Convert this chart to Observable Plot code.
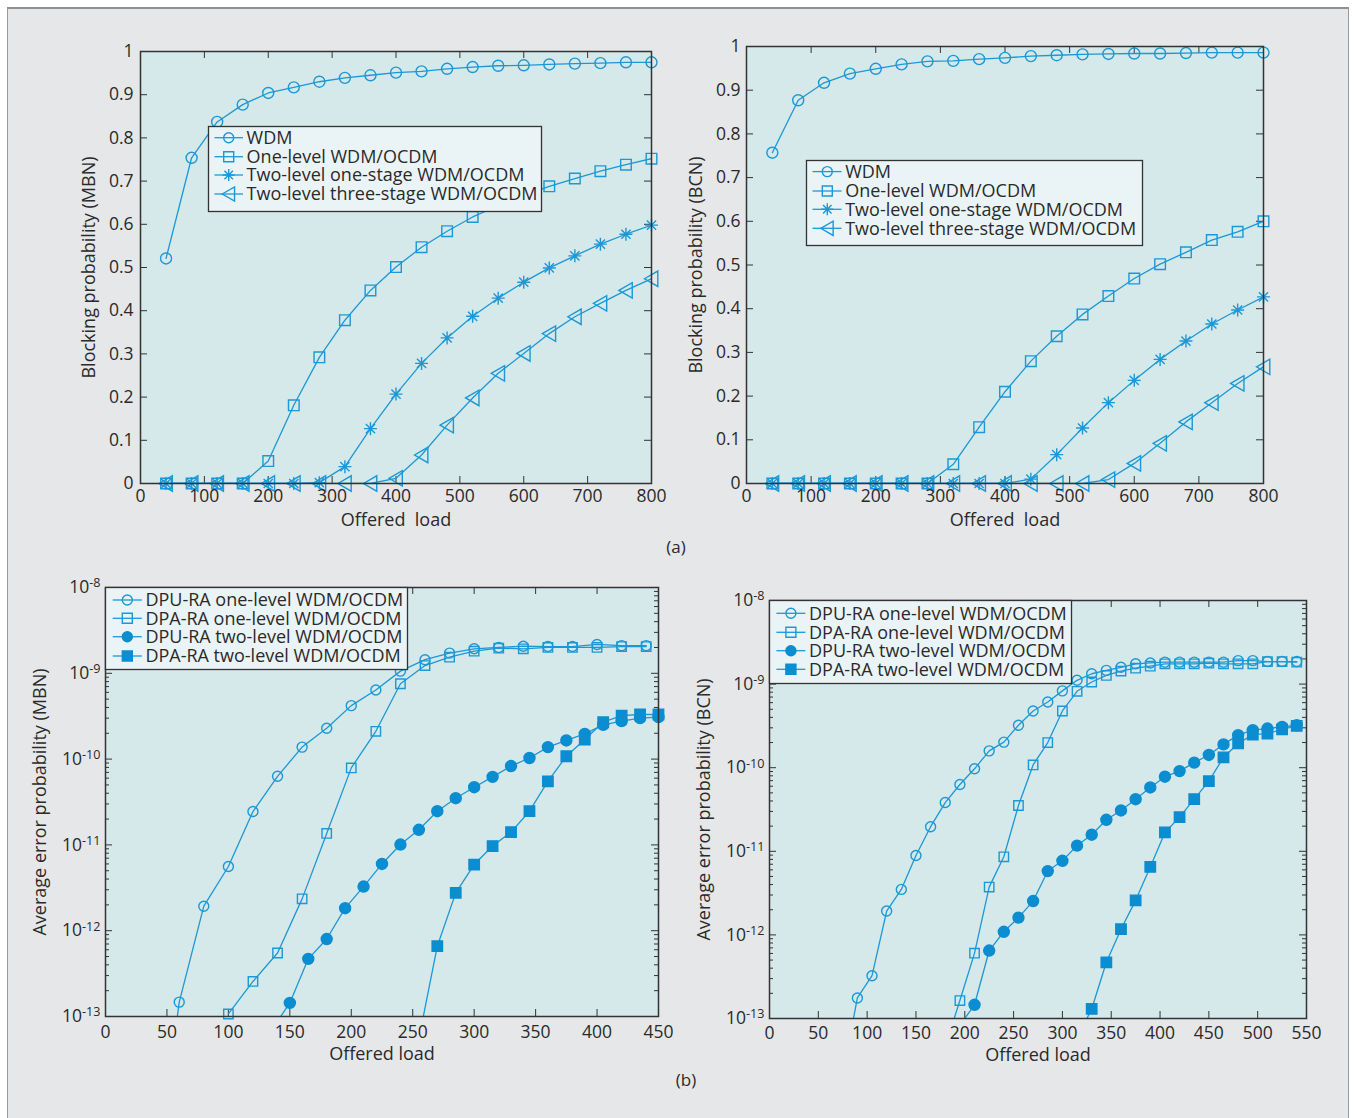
<!DOCTYPE html>
<html>
<head>
<meta charset="utf-8">
<script src="https://cdn.jsdelivr.net/npm/d3@7"></script>
<script src="https://cdn.jsdelivr.net/npm/@observablehq/plot@0.6"></script>
<style>
  html, body { margin: 0; padding: 0; background: #ffffff; }
  #page { position: relative; width: 1356px; height: 1118px; overflow: hidden; background: #ffffff;
          font-family: "Open Sans", "Noto Sans", sans-serif; font-weight: 500; color: #2a2a2a; }
  #sheet { position: absolute; left: 7px; top: 7px; width: 1340px; height: 1130px; background: #e6e7e9;
           border-left: 1px solid #9a9b9d; border-right: 1px solid #9a9b9d; border-top: 2px solid #8e9092; }
  .chart { position: absolute; }
  svg text { white-space: pre; font-weight: 500; }
  .cap { position: absolute; font-size: 17px; transform: translate(-50%, -50%); white-space: nowrap; }
</style>
</head>
<body>
<div id="page"><div id="sheet"></div></div>
<script>
// ---------------- data ----------------
// (a) blocking probability, offered load
const loadA = [40, 80, 120, 160, 200, 240, 280, 320, 360, 400, 440, 480, 520, 560, 600, 640, 680, 720, 760, 800];
const legendA = ["WDM", "One-level WDM/OCDM", "Two-level one-stage WDM/OCDM", "Two-level three-stage WDM/OCDM"];
// MBN
const mbnWDM   = [0.521, 0.754, 0.837, 0.877, 0.904, 0.917, 0.930, 0.939, 0.945, 0.951, 0.954, 0.960, 0.964, 0.967, 0.968, 0.970, 0.972, 0.973, 0.975, 0.975];
const mbnOne   = [0, 0, 0, 0, 0.052, 0.181, 0.292, 0.378, 0.447, 0.501, 0.547, 0.584, 0.617, 0.643, 0.667, 0.688, 0.706, 0.723, 0.738, 0.752];
const mbnTwo1  = [0, 0, 0, 0, 0, 0, 0.002, 0.039, 0.127, 0.207, 0.278, 0.337, 0.387, 0.429, 0.466, 0.499, 0.527, 0.554, 0.577, 0.598];
const mbnTwo3  = [0, 0, 0, 0, 0, 0, 0, 0, 0, 0.012, 0.066, 0.135, 0.198, 0.255, 0.301, 0.347, 0.386, 0.417, 0.447, 0.474];
// BCN
const bcnWDM   = [0.757, 0.877, 0.917, 0.938, 0.949, 0.959, 0.966, 0.967, 0.971, 0.974, 0.978, 0.980, 0.982, 0.983, 0.984, 0.984, 0.985, 0.986, 0.986, 0.986];
const bcnOne   = [0, 0, 0, 0, 0, 0, 0, 0.044, 0.129, 0.210, 0.280, 0.337, 0.387, 0.429, 0.469, 0.502, 0.529, 0.557, 0.576, 0.600];
const bcnTwo1  = [0, 0, 0, 0, 0, 0, 0, 0, 0, 0, 0.010, 0.066, 0.127, 0.185, 0.236, 0.284, 0.326, 0.365, 0.397, 0.427];
const bcnTwo3  = [0, 0, 0, 0, 0, 0, 0, 0, 0, 0, 0, 0, 0, 0.009, 0.046, 0.092, 0.141, 0.185, 0.229, 0.267];
const xTicksA = [0, 100, 200, 300, 400, 500, 600, 700, 800];
const yTicksA = [0, 0.1, 0.2, 0.3, 0.4, 0.5, 0.6, 0.7, 0.8, 0.9, 1];

// (b) average error probability, offered load
const legendB = ["DPU-RA one-level WDM/OCDM", "DPA-RA one-level WDM/OCDM", "DPU-RA two-level WDM/OCDM", "DPA-RA two-level WDM/OCDM"];
// MBN
const mDpuOneX = [40, 60, 80, 100, 120, 140, 160, 180, 200, 220, 240, 260, 280, 300, 320, 340, 360, 380, 400, 420, 440];
const mDpuOne  = [1e-15, 1.47e-13, 1.93e-12, 5.6e-12, 2.45e-11, 6.3e-11, 1.38e-10, 2.29e-10, 4.2e-10, 6.4e-10, 1.06e-9, 1.44e-9, 1.72e-9, 1.93e-9, 2.0e-9, 2.07e-9, 2.05e-9, 2.05e-9, 2.17e-9, 2.1e-9, 2.1e-9];
const mDpaOneX = [100, 120, 140, 160, 180, 200, 220, 240, 260, 280, 300, 320, 340, 360, 380, 400, 420, 440];
const mDpaOne  = [1.07e-13, 2.56e-13, 5.5e-13, 2.35e-12, 1.36e-11, 7.9e-11, 2.11e-10, 7.55e-10, 1.23e-9, 1.54e-9, 1.81e-9, 1.96e-9, 1.93e-9, 2.0e-9, 2.0e-9, 2.0e-9, 2.05e-9, 2.05e-9];
const mDpuTwoX = [135, 150, 165, 180, 195, 210, 225, 240, 255, 270, 285, 300, 315, 330, 345, 360, 375, 390, 405, 420, 435, 450];
const mDpuTwo  = [6.9e-14, 1.44e-13, 4.7e-13, 8.0e-13, 1.83e-12, 3.27e-12, 6.0e-12, 1.01e-11, 1.5e-11, 2.47e-11, 3.5e-11, 4.7e-11, 6.2e-11, 8.3e-11, 1.03e-10, 1.38e-10, 1.65e-10, 1.97e-10, 2.51e-10, 2.77e-10, 3.0e-10, 3.09e-10];
const mDpaTwoX = [255, 270, 285, 300, 315, 330, 345, 360, 375, 390, 405, 420, 435, 450];
const mDpaTwo  = [5.5e-14, 6.6e-13, 2.76e-12, 5.9e-12, 9.7e-12, 1.41e-11, 2.47e-11, 5.5e-11, 1.08e-10, 1.69e-10, 2.69e-10, 3.22e-10, 3.31e-10, 3.31e-10];
// BCN
const bDpuOneX = [75, 90, 105, 120, 135, 150, 165, 180, 195, 210, 225, 240, 255, 270, 285, 300, 315, 330, 345, 360, 375, 390, 405, 420, 435, 450, 465, 480, 495, 510, 525, 540];
const bDpuOne  = [2.1e-14, 1.76e-13, 3.25e-13, 1.93e-12, 3.5e-12, 8.9e-12, 1.97e-11, 3.83e-11, 6.3e-11, 9.7e-11, 1.59e-10, 2.02e-10, 3.22e-10, 4.77e-10, 6.1e-10, 8.3e-10, 1.11e-9, 1.33e-9, 1.46e-9, 1.59e-9, 1.75e-9, 1.79e-9, 1.83e-9, 1.83e-9, 1.83e-9, 1.83e-9, 1.83e-9, 1.91e-9, 1.91e-9, 1.86e-9, 1.86e-9, 1.86e-9];
const bDpaOneX = [180, 195, 210, 225, 240, 255, 270, 285, 300, 315, 330, 345, 360, 375, 390, 405, 420, 435, 450, 465, 480, 495, 510, 525, 540];
const bDpaOne  = [4.6e-14, 1.64e-13, 6.05e-13, 3.73e-12, 8.6e-12, 3.53e-11, 1.08e-10, 2.0e-10, 4.77e-10, 8.2e-10, 1.06e-9, 1.27e-9, 1.43e-9, 1.55e-9, 1.64e-9, 1.75e-9, 1.75e-9, 1.75e-9, 1.78e-9, 1.75e-9, 1.75e-9, 1.75e-9, 1.86e-9, 1.86e-9, 1.83e-9];
const bDpuTwoX = [195, 210, 225, 240, 255, 270, 285, 300, 315, 330, 345, 360, 375, 390, 405, 420, 435, 450, 465, 480, 495, 510, 525, 540];
const bDpuTwo  = [8.3e-14, 1.46e-13, 6.5e-13, 1.09e-12, 1.61e-12, 2.54e-12, 5.8e-12, 7.7e-12, 1.17e-11, 1.58e-11, 2.38e-11, 3.08e-11, 4.2e-11, 5.8e-11, 7.8e-11, 9.1e-11, 1.15e-10, 1.42e-10, 1.90e-10, 2.45e-10, 2.81e-10, 2.94e-10, 3.08e-10, 3.22e-10];
const bDpaTwoX = [315, 330, 345, 360, 375, 390, 405, 420, 435, 450, 465, 480, 495, 510, 525, 540];
const bDpaTwo  = [5.8e-14, 1.30e-13, 4.7e-13, 1.17e-12, 2.59e-12, 6.5e-12, 1.68e-11, 2.56e-11, 4.2e-11, 6.9e-11, 1.33e-10, 1.95e-10, 2.49e-10, 2.56e-10, 2.88e-10, 3.16e-10];
const xTicksMBN = [0, 50, 100, 150, 200, 250, 300, 350, 400, 450];
const xTicksBCN = [0, 50, 100, 150, 200, 250, 300, 350, 400, 450, 500, 550];
const logMajor = [1e-13, 1e-12, 1e-11, 1e-10, 1e-9, 1e-8];
const logMinor = [2e-13, 3e-13, 4e-13, 5e-13, 6e-13, 7e-13, 8e-13, 9e-13,
                  2e-12, 3e-12, 4e-12, 5e-12, 6e-12, 7e-12, 8e-12, 9e-12,
                  2e-11, 3e-11, 4e-11, 5e-11, 6e-11, 7e-11, 8e-11, 9e-11,
                  2e-10, 3e-10, 4e-10, 5e-10, 6e-10, 7e-10, 8e-10, 9e-10,
                  2e-9, 3e-9, 4e-9, 5e-9, 6e-9, 7e-9, 8e-9, 9e-9];

// ---------------- styling ----------------
const blue = "#1b98d5", blueFill = "#0b8dd1", plotBg = "#d5e8ea", legBg = "#eaf4f6", ink = "#333333", txt = "#2a2a2a";
const FONT = '"Open Sans", "Noto Sans", sans-serif';
const symCircle = {draw(c, s) { const r = Math.sqrt(s / Math.PI); c.moveTo(r, 0); c.arc(0, 0, r, 0, 2 * Math.PI); }};
const symSquare = {draw(c, s) { const r = Math.sqrt(s / Math.PI); c.moveTo(-r, -r); c.lineTo(r, -r); c.lineTo(r, r); c.lineTo(-r, r); c.closePath(); }};
const symStar = {draw(c, s) { const r = Math.sqrt(s / Math.PI), d = r * 0.7071;
  c.moveTo(-r, 0); c.lineTo(r, 0); c.moveTo(0, -r); c.lineTo(0, r);
  c.moveTo(-d, -d); c.lineTo(d, d); c.moveTo(-d, d); c.lineTo(d, -d); }};
const symTriLeft = {draw(c, s) { const r = Math.sqrt(s / Math.PI); c.moveTo(-r, 0); c.lineTo(0.9 * r, -1.1 * r); c.lineTo(0.9 * r, 1.1 * r); c.closePath(); }};

const page = document.getElementById("page");

function panel(o) {
  const {box, frame} = o;
  const marginLeft = frame.left - box.x, marginTop = frame.top - box.y;
  const marginRight = box.x + box.w - frame.right, marginBottom = box.y + box.h - frame.bottom;
  const fw = frame.right - frame.left, fh = frame.bottom - frame.top;
  const T = 7, t = 4;
  const marks = [
    Plot.frame({fill: plotBg, stroke: "none"}),
    Plot.tickX(o.xTicks, {x: d => d, insetTop: fh - T, stroke: ink}),
    Plot.tickX(o.xTicks, {x: d => d, insetBottom: fh - T, stroke: ink}),
    Plot.tickY(o.yTicks, {y: d => d, insetRight: fw - T, stroke: ink}),
    Plot.tickY(o.yTicks, {y: d => d, insetLeft: fw - T, stroke: ink})
  ];
  if (o.yMinor) {
    marks.push(Plot.tickY(o.yMinor, {y: d => d, insetRight: fw - t, stroke: ink}));
    marks.push(Plot.tickY(o.yMinor, {y: d => d, insetLeft: fw - t, stroke: ink}));
  }
  for (const s of o.series) {
    const data = s.x.map((x, i) => ({x, y: s.y[i]}));
    marks.push(Plot.line(data, {x: "x", y: "y", stroke: blue, strokeWidth: 1.3, clip: true}));
    const vis = data.filter(d => d.y >= o.yDomain[0] * 0.999);
    marks.push(Plot.dot(vis, {x: "x", y: "y", symbol: s.symbol, r: s.r,
      stroke: s.filled ? blueFill : blue, fill: s.filled ? blueFill : "none", strokeWidth: 1.4}));
  }
  marks.push(Plot.frame({stroke: ink, strokeWidth: 1.5}));
  marks.push(Plot.axisX(o.xTicks, {label: null, tickSize: 0, tickPadding: o.xPad, fontSize: 17.5, fill: txt}));
  marks.push(Plot.axisY(o.yTicks, {label: null, tickSize: 0, tickPadding: o.yPad, tickFormat: o.yFormat, fontSize: 17.5, fill: txt}));
  marks.push(Plot.text([o.xTitle], {text: d => d, frameAnchor: "bottom", textAnchor: "middle", dy: o.xTitleDy, lineAnchor: "top", fontSize: 18, fill: txt}));
  marks.push(Plot.text([o.yTitle], {text: d => d, frameAnchor: "left", textAnchor: "middle", dx: o.yTitleDx, rotate: -90, lineAnchor: "top", fontSize: 18, fill: txt}));
  const svg = Plot.plot({
    width: box.w, height: box.h, marginLeft, marginRight, marginTop, marginBottom,
    x: {domain: o.xDomain, label: null}, y: {type: o.yType, domain: o.yDomain, label: null},
    style: {background: "transparent", overflow: "visible", fontFamily: FONT, fontSize: "17.5px", color: ink},
    marks
  });
  if (o.yType === "log") {
    const ns = "http://www.w3.org/2000/svg";
    svg.querySelectorAll('g[aria-label="y-axis tick label"] text').forEach(el => {
      const m = el.textContent.match(/^10\^(-?\d+)$/);
      if (!m) return;
      el.textContent = "";
      const a = document.createElementNS(ns, "tspan"); a.textContent = "10"; el.appendChild(a);
      const b = document.createElementNS(ns, "tspan"); b.setAttribute("dy", "-0.45em"); b.setAttribute("font-size", "0.72em");
      b.textContent = m[1]; el.appendChild(b);
    });
  }
  svg.classList.add("chart");
  svg.style.position = "absolute"; svg.style.left = box.x + "px"; svg.style.top = box.y + "px";
  page.appendChild(svg);
}

function legend(L) {
  const svg = d3.create("svg").attr("width", L.w + 2).attr("height", L.h + 2)
    .style("position", "absolute").style("left", (L.left - 0.5) + "px").style("top", (L.top - 0.5) + "px")
    .style("overflow", "visible");
  svg.append("rect").attr("x", 0.5).attr("y", 0.5).attr("width", L.w).attr("height", L.h)
    .attr("fill", legBg).attr("stroke", ink).attr("stroke-width", 1.3);
  L.items.forEach((it, i) => {
    const cy = L.rows[i];
    svg.append("line").attr("x1", L.x1).attr("x2", L.x2).attr("y1", cy).attr("y2", cy)
      .attr("stroke", blue).attr("stroke-width", 1.3);
    const p = d3.path(); it.symbol.draw(p, Math.PI * it.r * it.r);
    svg.append("path").attr("d", p.toString()).attr("transform", `translate(${L.mx},${cy})`)
      .attr("fill", it.filled ? blueFill : "none").attr("stroke", it.filled ? blueFill : blue).attr("stroke-width", 1.4);
    svg.append("text").attr("x", L.tx).attr("y", cy).attr("dy", "0.36em")
      .attr("font-family", FONT).attr("font-size", 18).attr("fill", txt).text(it.label);
  });
  page.appendChild(svg.node());
}

const fmtLin = d => String(d);
const fmtLog = d => "10^" + Math.round(Math.log10(d));

// (a) left: MBN
panel({
  box: {x: 15, y: 15, w: 660, h: 540}, frame: {left: 140, top: 51, right: 651, bottom: 483},
  xDomain: [0, 800], yType: "linear", yDomain: [0, 1], xTicks: xTicksA, yTicks: yTicksA,
  xPad: 6, yPad: 7, yFormat: fmtLin, xTitle: "Offered  load", yTitle: "Blocking probability (MBN)",
  xTitleDy: 30, yTitleDx: -58,
  series: [
    {x: loadA, y: mbnWDM, symbol: symCircle, r: 5.5},
    {x: loadA, y: mbnOne, symbol: symSquare, r: 5.3},
    {x: loadA, y: mbnTwo1, symbol: symStar, r: 6.5},
    {x: loadA, y: mbnTwo3, symbol: symTriLeft, r: 7}
  ]
});
// (a) right: BCN
panel({
  box: {x: 680, y: 15, w: 650, h: 540}, frame: {left: 746, top: 46, right: 1263, bottom: 483},
  xDomain: [0, 800], yType: "linear", yDomain: [0, 1], xTicks: xTicksA, yTicks: yTicksA,
  xPad: 6, yPad: 6, yFormat: fmtLin, xTitle: "Offered  load", yTitle: "Blocking probability (BCN)",
  xTitleDy: 30, yTitleDx: -57,
  series: [
    {x: loadA, y: bcnWDM, symbol: symCircle, r: 5.5},
    {x: loadA, y: bcnOne, symbol: symSquare, r: 5.3},
    {x: loadA, y: bcnTwo1, symbol: symStar, r: 6.5},
    {x: loadA, y: bcnTwo3, symbol: symTriLeft, r: 7}
  ]
});
// (b) left: MBN
panel({
  box: {x: 15, y: 560, w: 665, h: 520}, frame: {left: 105, top: 587, right: 658, bottom: 1016},
  xDomain: [0, 450], yType: "log", yDomain: [1e-13, 1e-8], xTicks: xTicksMBN, yTicks: logMajor, yMinor: logMinor,
  xPad: 9, yPad: 5, yFormat: fmtLog, xTitle: "Offered load", yTitle: "Average error probability (MBN)",
  xTitleDy: 31, yTitleDx: -72,
  series: [
    {x: mDpuOneX, y: mDpuOne, symbol: symCircle, r: 5},
    {x: mDpaOneX, y: mDpaOne, symbol: symSquare, r: 4.7},
    {x: mDpuTwoX, y: mDpuTwo, symbol: symCircle, r: 5.5, filled: true},
    {x: mDpaTwoX, y: mDpaTwo, symbol: symSquare, r: 5.2, filled: true}
  ]
});
// (b) right: BCN
panel({
  box: {x: 685, y: 560, w: 655, h: 520}, frame: {left: 769, top: 600, right: 1306, bottom: 1018},
  xDomain: [0, 550], yType: "log", yDomain: [1e-13, 1e-8], xTicks: xTicksBCN, yTicks: logMajor, yMinor: logMinor,
  xPad: 8, yPad: 5, yFormat: fmtLog, xTitle: "Offered load", yTitle: "Average error probability (BCN)",
  xTitleDy: 30, yTitleDx: -72,
  series: [
    {x: bDpuOneX, y: bDpuOne, symbol: symCircle, r: 5},
    {x: bDpaOneX, y: bDpaOne, symbol: symSquare, r: 4.7},
    {x: bDpuTwoX, y: bDpuTwo, symbol: symCircle, r: 5.5, filled: true},
    {x: bDpaTwoX, y: bDpaTwo, symbol: symSquare, r: 5.2, filled: true}
  ]
});

const itemsA = [
  {label: legendA[0], symbol: symCircle, r: 5},
  {label: legendA[1], symbol: symSquare, r: 5},
  {label: legendA[2], symbol: symStar, r: 6},
  {label: legendA[3], symbol: symTriLeft, r: 6.5}
];
const itemsB = [
  {label: legendB[0], symbol: symCircle, r: 5},
  {label: legendB[1], symbol: symSquare, r: 5},
  {label: legendB[2], symbol: symCircle, r: 5, filled: true},
  {label: legendB[3], symbol: symSquare, r: 5, filled: true}
];
legend({left: 208, top: 126, w: 333, h: 85, rows: [11.7, 30.7, 49, 68], x1: 6.5, x2: 35, mx: 20.7, tx: 38.6, items: itemsA});
legend({left: 806.5, top: 160.7, w: 336, h: 85, rows: [11.6, 31, 49.3, 68.3], x1: 6.5, x2: 35.5, mx: 21.3, tx: 39.2, items: itemsA});
legend({left: 105, top: 587, w: 302, h: 82, rows: [13, 31.3, 49.7, 69], x1: 7.7, x2: 36.8, mx: 22.3, tx: 40.4, items: itemsB});
legend({left: 769, top: 600, w: 302, h: 83, rows: [13.3, 32.3, 50.7, 69.3], x1: 7.4, x2: 36.4, mx: 21.9, tx: 40, items: itemsB});

function caption(text, x, y) {
  const d = document.createElement("div"); d.className = "cap"; d.textContent = text;
  d.style.left = x + "px"; d.style.top = y + "px"; page.appendChild(d);
}
caption("(a)", 676, 546);
caption("(b)", 686, 1079);
</script>
</body>
</html>
